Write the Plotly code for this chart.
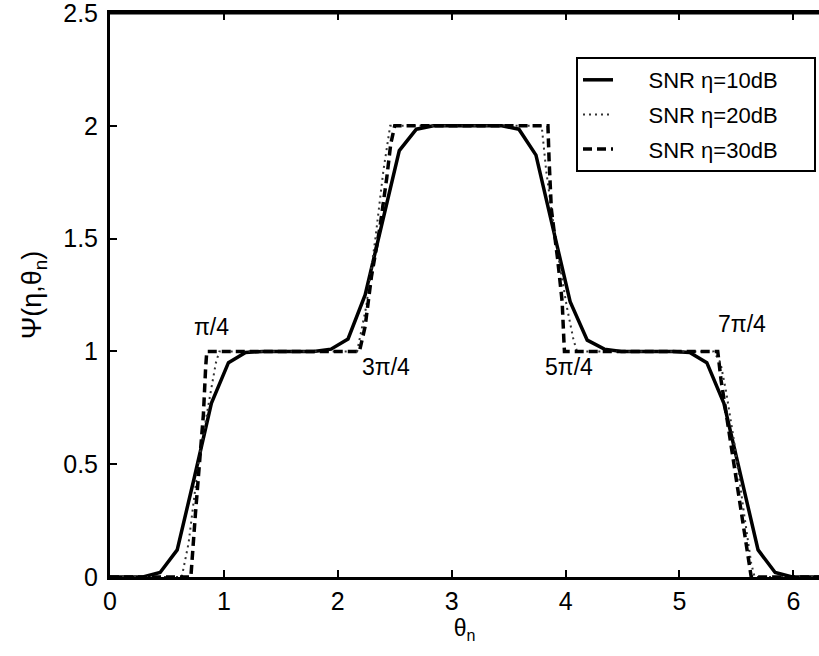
import plotly.graph_objects as go

# Psi(eta, theta_n) versus theta_n for three SNR values
theta_10 = [0.00, 0.29, 0.44, 0.59, 0.74, 0.89, 1.04, 1.19, 1.34, 1.79, 1.94, 2.09, 2.24,
            2.39, 2.54, 2.69, 2.84, 3.44, 3.59, 3.74, 3.89, 4.04, 4.19, 4.34, 4.49, 4.94,
            5.09, 5.24, 5.39, 5.54, 5.69, 5.84, 5.99, 6.28]
psi_10 = [0.00, 0.00, 0.02, 0.12, 0.44, 0.77, 0.95, 0.995, 1.00, 1.00, 1.01, 1.055, 1.25,
          1.57, 1.89, 1.985, 2.00, 2.00, 1.985, 1.87, 1.55, 1.22, 1.05, 1.01, 1.00, 1.00,
          0.995, 0.95, 0.77, 0.44, 0.12, 0.02, 0.00, 0.00]

theta_20 = [0.00, 0.63, 0.69, 0.775, 0.877, 0.93, 0.96, 2.17, 2.25, 2.33, 2.40, 2.44, 2.46,
            3.79, 3.83, 3.91, 4.01, 4.07, 4.10, 5.30, 5.36, 5.41, 5.48, 5.57, 5.63, 5.66, 6.28]
psi_20 = [0.00, 0.00, 0.15, 0.50, 0.80, 0.95, 1.00, 1.00, 1.20, 1.50, 1.80, 1.95, 2.00,
          2.00, 1.80, 1.50, 1.20, 1.05, 1.00, 1.00, 0.95, 0.82, 0.60, 0.27, 0.06, 0.00, 0.00]

theta_30 = [0.00, 0.71, 0.75, 0.785, 0.82, 0.84, 0.85, 2.19, 2.24, 2.295, 2.37, 2.43, 2.465,
            2.50, 3.845, 3.855, 3.875, 3.93, 3.97, 3.985, 3.99, 5.336, 5.365, 5.41, 5.48,
            5.526, 5.57, 5.614, 5.63, 6.28]
psi_30 = [0.00, 0.00, 0.28, 0.50, 0.72, 0.93, 1.00, 1.00, 1.11, 1.33, 1.55, 1.77, 1.92,
          2.00, 2.00, 1.85, 1.63, 1.41, 1.22, 1.05, 1.00, 1.00, 0.873, 0.725, 0.50,
          0.355, 0.207, 0.06, 0.00, 0.00]

series_names = ["SNR η=10dB", "SNR η=20dB", "SNR η=30dB"]

# angle markers written next to the steps
marker_text = ["π/4", "3π/4", "5π/4", "7π/4"]
marker_x = [0.89, 2.42, 4.03, 5.55]
marker_y = [1.11, 0.93, 0.93, 1.12]

x_ticks = [0, 1, 2, 3, 4, 5, 6]
y_ticks = [0, 0.5, 1, 1.5, 2, 2.5]
y_tick_text = ["0", "0.5", "1", "1.5", "2", "2.5"]

FONT = "Liberation Sans, Arial, Helvetica, sans-serif"
NB = "\u00a0"

def legend_label(s):
    return NB * 5 + s + NB * 5

fig = go.Figure()
fig.add_trace(go.Scatter(x=theta_10, y=psi_10, mode="lines", name=legend_label(series_names[0]),
                         legendgroup="a", line=dict(color="black", width=3.5)))
fig.add_trace(go.Scatter(x=theta_20, y=psi_20, mode="lines", name=legend_label(series_names[1]),
                         legendgroup="b", line=dict(color="#333333", width=2, dash="2px,4px")))
fig.add_trace(go.Scatter(x=theta_30, y=psi_30, mode="lines", name=legend_label(series_names[2]),
                         legendgroup="c", line=dict(color="black", width=3.5, dash="9px,5px")))

for t, xv, yv in zip(marker_text, marker_x, marker_y):
    fig.add_annotation(x=xv, y=yv, text=t, showarrow=False,
                       font=dict(family=FONT, size=23, color="black"))

# top frame line of the axes box
fig.add_shape(type="line", xref="paper", yref="paper", x0=0, x1=1, y0=1, y1=1,
              line=dict(color="black", width=3), layer="above")

fig.update_layout(
    width=819, height=656,
    margin=dict(l=110, r=0, t=13, b=79),
    paper_bgcolor="white", plot_bgcolor="white",
    font=dict(family=FONT, color="black"),
    showlegend=True,
    legend=dict(x=(576 - 110) / 709, y=(577 - 57) / 564, xanchor="left", yanchor="top",
                bgcolor="white", bordercolor="black", borderwidth=2,
                font=dict(family=FONT, size=22, color="black"),
                traceorder="grouped", tracegroupgap=3),
)
fig.update_xaxes(range=[0, 6.225], tickvals=x_ticks, ticks="inside", ticklen=7, tickwidth=2,
                 tickcolor="black", showline=True, linecolor="black", linewidth=3,
                 mirror="allticks", showgrid=False, zeroline=False, ticklabeloverflow="allow",
                 tickfont=dict(family=FONT, size=25, color="black"),
                 title=dict(text="θ<sub>n</sub>", font=dict(family=FONT, size=23), standoff=0))
fig.update_yaxes(range=[0, 2.5], tickvals=y_ticks, ticktext=y_tick_text, ticks="inside",
                 ticklen=7, tickwidth=2, tickcolor="black", showline=True, linecolor="black",
                 linewidth=3, showgrid=False, zeroline=False, ticklabelstandoff=4,
                 ticklabeloverflow="allow",
                 tickfont=dict(family=FONT, size=25, color="black"),
                 title=dict(text="Ψ(η,θ<sub>n</sub>)", font=dict(family=FONT, size=27), standoff=14))

fig.write_html("out.html")
